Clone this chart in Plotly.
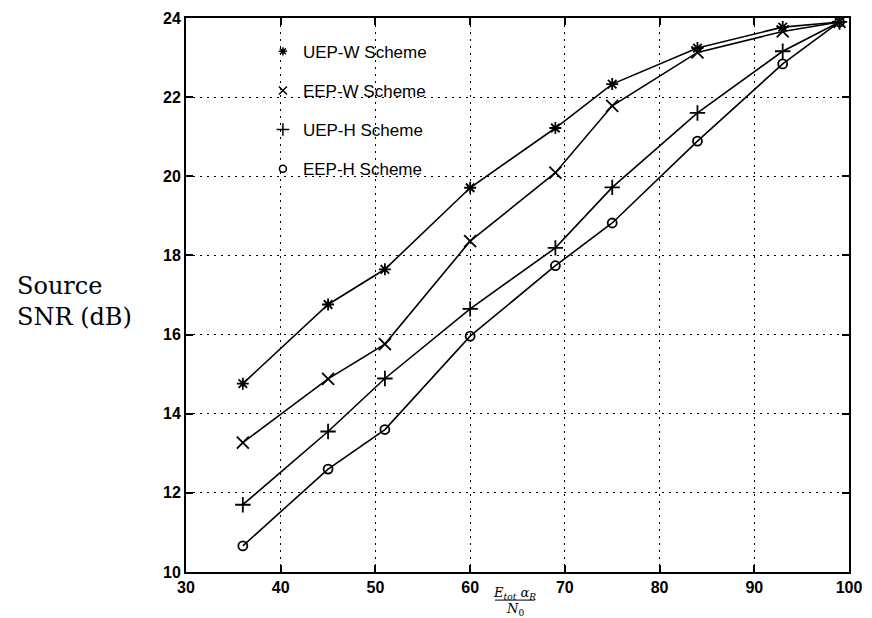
import plotly.graph_objects as go

x_vals = [36, 45, 51, 60, 69, 75, 84, 93, 99]
uep_w = [14.76, 16.76, 17.65, 19.71, 21.22, 22.33, 23.24, 23.77, 23.9]
eep_w = [13.27, 14.88, 15.76, 18.36, 20.09, 21.78, 23.13, 23.66, 23.9]
uep_h = [11.70, 13.55, 14.89, 16.65, 18.19, 19.72, 21.60, 23.16, 23.9]
eep_h = [10.66, 12.60, 13.60, 15.96, 17.74, 18.82, 20.89, 22.84, 23.9]

series_names = ["UEP-W Scheme", "EEP-W Scheme", "UEP-H Scheme", "EEP-H Scheme"]
series_vals = [uep_w, eep_w, uep_h, eep_h]
symbols = ["asterisk-open", "x-thin-open", "cross-thin-open", "circle-open"]
sizes = [10, 12, 11, 9]
legend_sizes = [7, 8, 9, 7]

x_ticks = [30, 40, 50, 60, 70, 80, 90, 100]
y_ticks = [10, 12, 14, 16, 18, 20, 22, 24]

fig = go.Figure()
for name, vals, sym, sz in zip(series_names, series_vals, symbols, sizes):
    fig.add_trace(go.Scatter(
        x=x_vals, y=vals, mode="lines+markers", name=name, showlegend=False,
        line=dict(color="black", width=1.6),
        marker=dict(symbol=sym, size=sz, color="black", line=dict(color="black", width=1.8)),
    ))
for i, (name, sym, sz) in enumerate(zip(series_names, symbols, legend_sizes)):
    fig.add_trace(go.Scatter(
        x=[None], y=[None], mode="markers", name=name, legendgroup=f"g{i}",
        marker=dict(symbol=sym, size=sz, color="black", line=dict(color="black", width=1.5)),
    ))

tick_font = dict(family="Liberation Sans, Arial, sans-serif", size=16, color="black", weight="bold")

axis_common = dict(
    ticks="inside", ticklen=7, tickwidth=1.5, tickcolor="black",
    showline=True, linecolor="black", linewidth=2, mirror="ticks",
    showgrid=True, gridcolor="black", griddash="2px,5px", gridwidth=1.2,
    zeroline=False, tickfont=tick_font,
)

fig.update_layout(
    width=872, height=618,
    margin=dict(l=186, r=17, t=10, b=46),
    paper_bgcolor="white", plot_bgcolor="white",
    showlegend=True,
    legend=dict(
        x=0.116, y=0.9715, xanchor="left", yanchor="top",
        bgcolor="rgba(0,0,0,0)", borderwidth=0,
        font=dict(family="Liberation Sans, Arial, sans-serif", size=17, color="black"),
        tracegroupgap=14, itemwidth=30,
    ),
    xaxis=dict(range=[30, 100], tickvals=x_ticks, **axis_common),
    yaxis=dict(range=[10, 24], tickvals=y_ticks, **axis_common),
)

serif = "DejaVu Serif, Liberation Serif, serif"
fig.add_annotation(
    xref="paper", yref="paper", x=-0.2586, y=0.489, xanchor="left", yanchor="middle",
    text="Source<br>SNR (dB)", showarrow=False, align="left",
    font=dict(family=serif, size=24, color="black"),
)
fig.add_annotation(
    xref="paper", yref="paper", x=0.496, y=0, yshift=-21, xanchor="center", yanchor="middle",
    text="<i>E<sub>tot</sub> α<sub>R</sub></i>", showarrow=False,
    font=dict(family=serif, size=13, color="black"),
)
fig.add_annotation(
    xref="paper", yref="paper", x=0.496, y=0, yshift=-37, xanchor="center", yanchor="middle",
    text="<i>N</i><sub>0</sub>", showarrow=False,
    font=dict(family=serif, size=13, color="black"),
)
fig.add_shape(
    type="line", xref="paper", yref="paper",
    x0=0.466, x1=0.526, y0=-28.5 / 562, y1=-28.5 / 562,
    line=dict(color="black", width=1),
)

fig.write_html(
    "out.html",
    config={"displayModeBar": False},
    post_script="document.body.style.margin='0';document.body.style.overflow='hidden';",
)
